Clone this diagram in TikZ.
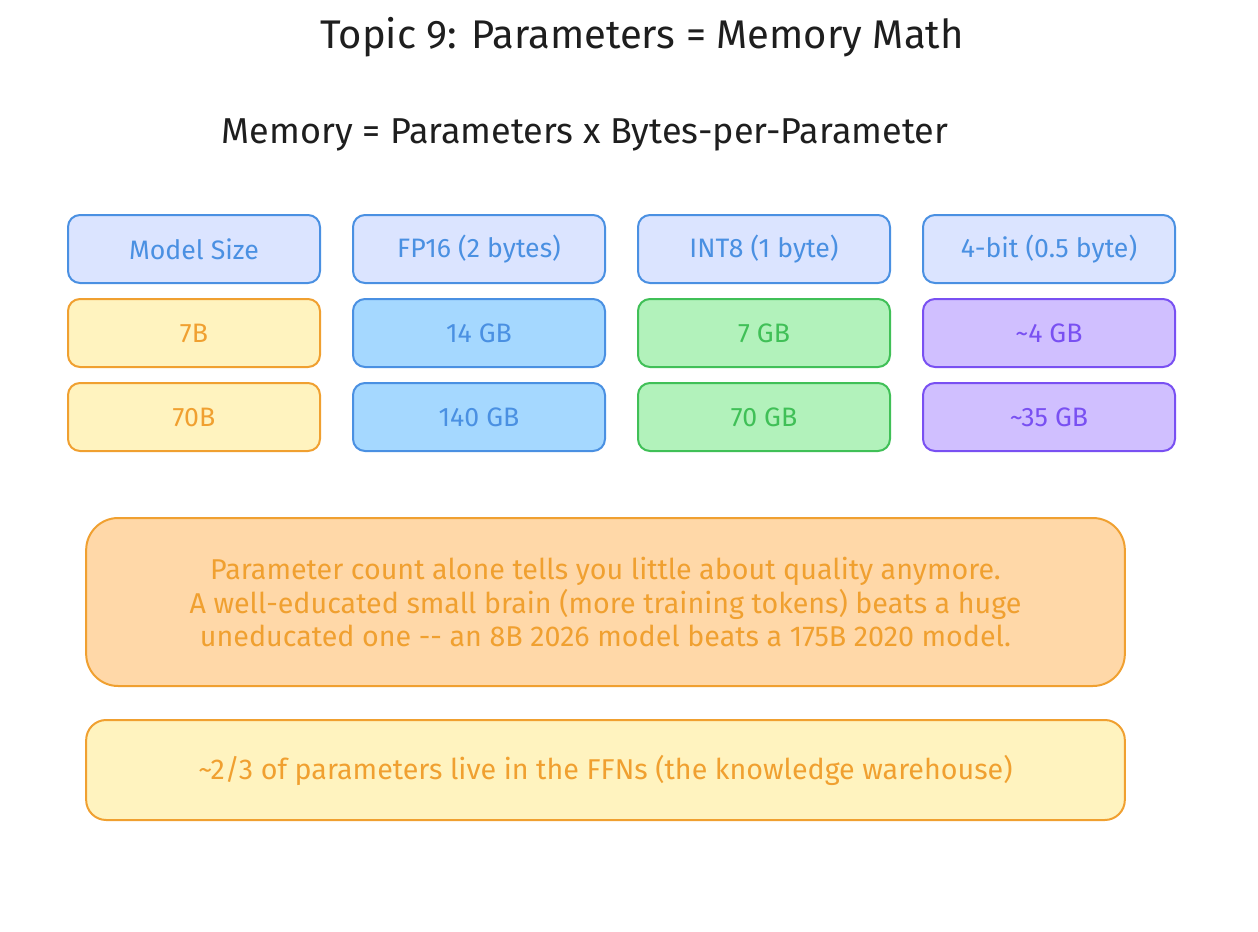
\documentclass[tikz,border=0pt]{standalone}
\usepackage{fontspec}
\setmainfont{Fira Sans}
\definecolor{inkdark}{HTML}{1E1E1E}
\definecolor{hdrfill}{HTML}{DBE4FF}
\definecolor{hdrline}{HTML}{4A90E2}
\definecolor{ylwfill}{HTML}{FFF3BF}
\definecolor{ylwline}{HTML}{F0A030}
\definecolor{blufill}{HTML}{A5D8FF}
\definecolor{grnfill}{HTML}{B2F2BB}
\definecolor{grnline}{HTML}{40C057}
\definecolor{purfill}{HTML}{D0BFFF}
\definecolor{purline}{HTML}{7950F2}
\definecolor{orgfill}{HTML}{FFD8A8}
\tikzset{every picture/.style={line width=1.5pt},
  cell/.style={draw, rounded corners=9pt, minimum width=189pt, minimum height=51pt, font=\fontsize{20}{24}\selectfont},
  hdr/.style={cell, fill=hdrfill, draw=hdrline, text=hdrline},
  ylw/.style={cell, fill=ylwfill, draw=ylwline, text=ylwline},
  blu/.style={cell, fill=blufill, draw=hdrline, text=hdrline},
  grn/.style={cell, fill=grnfill, draw=grnline, text=grnline},
  pur/.style={cell, fill=purfill, draw=purline, text=purline}}

\begin{document}
\begin{tikzpicture}[x=0.75pt,y=0.75pt,yscale=-1,xscale=1]
\useasboundingbox (0,0) rectangle (1258,932);

% titles
\node (title) at (642,37) [text=inkdark, font=\fontsize{30}{36}\selectfont] {Topic 9: Parameters = Memory Math};
\node (formula) at (585,135) [text=inkdark, font=\fontsize{27}{32}\selectfont] {Memory = Parameters x Bytes-per-Parameter};

% header row
\node [hdr] (hsize) at (194,249) {Model Size};
\node [hdr] (hfp) at (479,249) {FP16 (2 bytes)};
\node [hdr] (hint) at (764,249) {INT8 (1 byte)};
\node [hdr] (hfour) at (1049,249) {4-bit (0.5 byte)};

% 7B row
\node [ylw] (sizea) at (194,333) {7B};
\node [blu] (fpa) at (479,333) {14 GB};
\node [grn] (inta) at (764,333) {7 GB};
\node [pur] (foura) at (1049,333) {\textasciitilde 4 GB};

% 70B row
\node [ylw] (sizeb) at (194,417) {70B};
\node [blu] (fpb) at (479,417) {140 GB};
\node [grn] (intb) at (764,417) {70 GB};
\node [pur] (fourb) at (1049,417) {\textasciitilde 35 GB};

% notes
\node [draw=ylwline, fill=orgfill, text=ylwline, rounded corners=24pt, minimum width=779pt, minimum height=126pt,
  align=center, font=\fontsize{21.5}{25}\selectfont] (note) at (605.5,602)
  {Parameter count alone tells you little about quality anymore.\\
   A well-educated small brain (more training tokens) beats a huge\\
   uneducated one {-}{-} an 8B 2026 model beats a 175B 2020 model.};
\node [draw=ylwline, fill=ylwfill, text=ylwline, rounded corners=15pt, minimum width=779pt, minimum height=75pt,
  font=\fontsize{21.5}{26}\selectfont] (ffn) at (605.5,770)
  {\textasciitilde 2/3 of parameters live in the FFNs (the knowledge warehouse)};

\end{tikzpicture}
\end{document}
